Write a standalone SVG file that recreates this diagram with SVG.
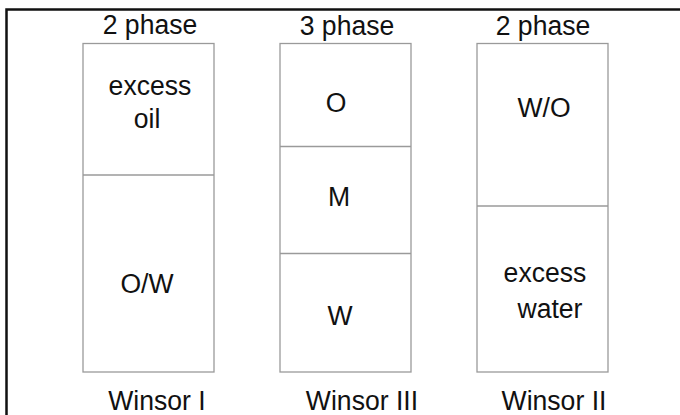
<svg xmlns="http://www.w3.org/2000/svg" width="680" height="415" viewBox="0 0 680 415">
  <style>
    .frame { fill: none; stroke: #111; stroke-width: 2.5; }
    .tube { fill: #fff; stroke: #9a9a9a; stroke-width: 1.3; }
    .split { stroke: #9a9a9a; stroke-width: 1.3; }
    text { font-family: "Liberation Sans", Arial, sans-serif; font-size: 28px; fill: #111; text-anchor: middle;
           transform-box: fill-box; transform-origin: center; transform: scaleX(0.95); }
  </style>
  <rect width="680" height="415" fill="#fff"/>
  <!-- outer frame: top and left edges -->
  <path class="frame" d="M6.5 415 V9.5 H680"/>

  <g id="winsor-1">
    <text x="150" y="34">2 phase</text>
    <rect class="tube" x="83" y="43.5" width="131" height="328.5"/>
    <line class="split" x1="83" y1="175" x2="214" y2="175"/>
    <text x="150" y="95">excess</text>
    <text x="147" y="128">oil</text>
    <text x="147" y="293">O/W</text>
    <text x="157" y="410">Winsor I</text>
  </g>

  <g id="winsor-3">
    <text x="347" y="35">3 phase</text>
    <rect class="tube" x="280" y="43.5" width="131" height="328.5"/>
    <line class="split" x1="280" y1="146.5" x2="411" y2="146.5"/>
    <line class="split" x1="280" y1="253.5" x2="411" y2="253.5"/>
    <text x="336" y="112">O</text>
    <text x="339" y="206">M</text>
    <text x="340" y="325">W</text>
    <text x="362" y="410">Winsor III</text>
  </g>

  <g id="winsor-2">
    <text x="543" y="35">2 phase</text>
    <rect class="tube" x="477" y="43.5" width="131" height="328.5"/>
    <line class="split" x1="477" y1="206" x2="608" y2="206"/>
    <text x="544" y="117">W/O</text>
    <text x="545" y="282">excess</text>
    <text x="550" y="318">water</text>
    <text x="554" y="410">Winsor II</text>
  </g>
</svg>
